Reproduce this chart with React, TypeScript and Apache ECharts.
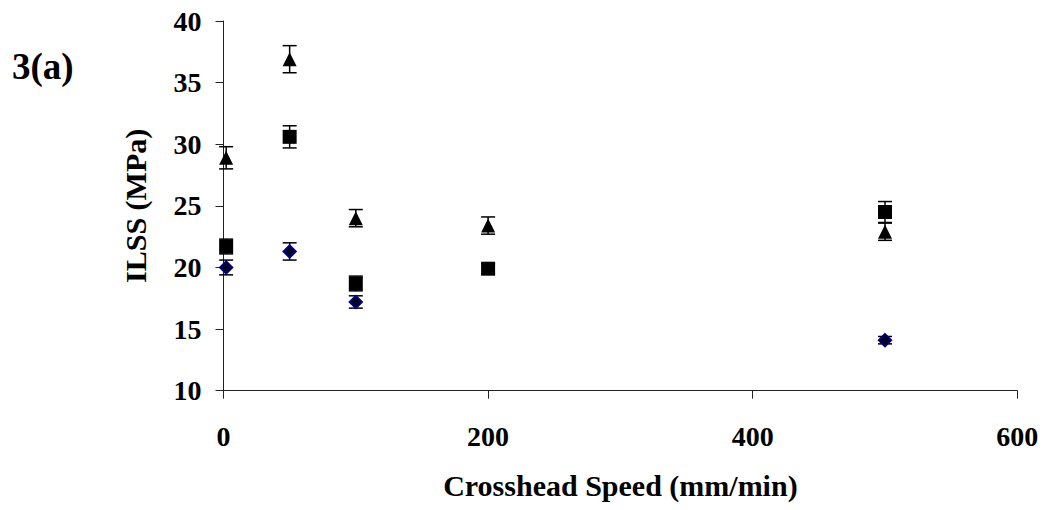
import React, { useEffect, useRef } from "react";
import * as echarts from "echarts";

const speeds = [2, 50, 100, 200, 500];
const triMean = [28.9, 36.9, 24.0, 23.4, 22.9];
const triErr = [0.9, 1.1, 0.7, 0.7, 0.7];
const sqMean = [21.7, 30.6, 18.7, 19.9, 24.5];
const sqErr = [0.6, 0.9, 0.6, 0.4, 0.85];
const diaSpeeds = [2, 50, 100, 500];
const diaMean = [20.0, 21.3, 17.2, 14.1];
const diaErr = [0.6, 0.7, 0.5, 0.3];

const xTitle = "Crosshead Speed (mm/min)";
const yTitle = "ILSS (MPa)";
const panelLabel = "3(a)";

const FONT = "'Liberation Serif', 'Times New Roman', serif";

function errData(xs: number[], means: number[], errs: number[]) {
  return xs.map((x, i) => [x, means[i] - errs[i], means[i] + errs[i]]);
}

function pts(xs: number[], means: number[]) {
  return xs.map((x, i) => [x, means[i]]);
}

const renderErr = (params: any, api: any) => {
  const x = api.value(0);
  const lo = api.coord([x, api.value(1)]);
  const hi = api.coord([x, api.value(2)]);
  const w = 7;
  const st = { stroke: "#000", lineWidth: 1.5 };
  return {
    type: "group",
    children: [
      { type: "line", shape: { x1: lo[0], y1: lo[1], x2: hi[0], y2: hi[1] }, style: st },
      { type: "line", shape: { x1: lo[0] - w, y1: lo[1], x2: lo[0] + w, y2: lo[1] }, style: st },
      { type: "line", shape: { x1: hi[0] - w, y1: hi[1], x2: hi[0] + w, y2: hi[1] }, style: st },
    ],
  };
};

export default function App() {
  const ref = useRef<HTMLDivElement>(null);
  useEffect(() => {
    if (!ref.current) return;
    const chart = echarts.init(ref.current, null, { renderer: "svg" });
    chart.setOption({
      animation: false,
      backgroundColor: "#fff",
      grid: { left: 223.5, right: 29.7, top: 21, bottom: 119.3 },
      xAxis: {
        type: "value",
        min: 0,
        max: 600,
        interval: 200,
        name: xTitle,
        nameLocation: "middle",
        nameGap: 80,
        nameTextStyle: { fontFamily: FONT, fontWeight: "bold", fontSize: 30, color: "#000" },
        axisLine: { show: true, onZero: false, lineStyle: { color: "#222", width: 1 } },
        axisTick: { show: true, inside: false, length: 8, lineStyle: { color: "#222" } },
        axisLabel: { margin: 32, fontFamily: FONT, fontWeight: "bold", fontSize: 28, color: "#000" },
        splitLine: { show: false },
      },
      yAxis: {
        type: "value",
        min: 10,
        max: 40,
        interval: 5,
        name: yTitle,
        nameLocation: "middle",
        nameGap: 73,
        nameRotate: 90,
        nameTextStyle: { fontFamily: FONT, fontWeight: "bold", fontSize: 30, color: "#000" },
        axisLine: { show: true, onZero: false, lineStyle: { color: "#222", width: 1 } },
        axisTick: { show: true, inside: false, length: 8, lineStyle: { color: "#222" } },
        axisLabel: { margin: 22, fontFamily: FONT, fontWeight: "bold", fontSize: 28, color: "#000" },
        splitLine: { show: false },
      },
      graphic: [
        {
          type: "text",
          left: 12,
          top: 48,
          style: { text: panelLabel, fontFamily: FONT, fontWeight: "bold", fontSize: 37, fill: "#000" },
        },
      ],
      series: [
        { type: "custom", renderItem: renderErr, data: errData(speeds, triMean, triErr), encode: { x: 0, y: [1, 2] }, z: 1 },
        { type: "custom", renderItem: renderErr, data: errData(speeds, sqMean, sqErr), encode: { x: 0, y: [1, 2] }, z: 1 },
        { type: "custom", renderItem: renderErr, data: errData(diaSpeeds, diaMean, diaErr), encode: { x: 0, y: [1, 2] }, z: 1 },
        {
          type: "scatter",
          name: "diamond",
          data: pts(diaSpeeds, diaMean),
          symbol: "diamond",
          symbolSize: [13, 13],
          itemStyle: { color: "#000028", borderColor: "#000090", borderWidth: 1.5, opacity: 1 },
          z: 3,
        },
        {
          type: "scatter",
          name: "square",
          data: pts(speeds, sqMean),
          symbol: "rect",
          symbolSize: [14, 14],
          itemStyle: { color: "#000", opacity: 1 },
          z: 3,
        },
        {
          type: "scatter",
          name: "triangle",
          data: pts(speeds, triMean),
          symbol: "triangle",
          symbolSize: [14, 14],
          itemStyle: { color: "#000", opacity: 1 },
          z: 3,
        },
      ],
    });
    return () => chart.dispose();
  }, []);
  return (
    <div
      ref={ref}
      style={{ position: "fixed", left: 0, top: 0, width: 1047, height: 510, background: "#fff" }}
    />
  );
}
